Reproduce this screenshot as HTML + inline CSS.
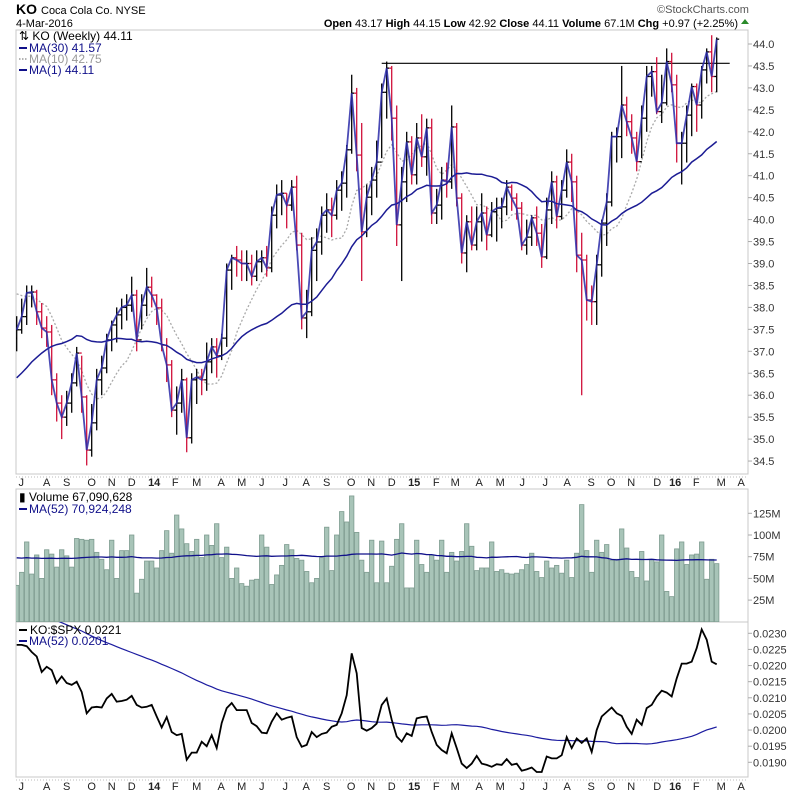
<!DOCTYPE html>
<html><head><meta charset="utf-8"><style>
body{margin:0;background:#fff;width:800px;height:795px;overflow:hidden}
svg{display:block;font-family:"Liberation Sans",sans-serif}
</style></head><body>
<svg id="chart" width="800" height="795" viewBox="0 0 800 795">
<defs>
<clipPath id="cm"><rect x="16" y="30" width="732" height="444"/></clipPath>
<clipPath id="cv"><rect x="16" y="489" width="732" height="133"/></clipPath>
<clipPath id="cr"><rect x="16" y="622" width="732" height="155"/></clipPath>
</defs>
<g>
<text x="16" y="14" font-size="14" font-weight="bold">KO</text>
<text x="41" y="14" font-size="11">Coca Cola Co. NYSE</text>
<text x="16" y="27" font-size="11">4-Mar-2016</text>
<text x="657" y="13" font-size="11" fill="#555">©StockCharts.com</text>
<text x="738" y="27" font-size="11" text-anchor="end"><tspan font-weight="bold">Open</tspan> 43.17 <tspan font-weight="bold">High</tspan> 44.15 <tspan font-weight="bold">Low</tspan> 42.92 <tspan font-weight="bold">Close</tspan> 44.11 <tspan font-weight="bold">Volume</tspan> 67.1M <tspan font-weight="bold">Chg</tspan> +0.97 (+2.25%)</text>
<path d="M741 24 L745 19 L749 24 Z" fill="#2a8a2a"/>
</g>
<g id="panels"></g>
<g id="main" clip-path="url(#cm)"></g>
<g id="vol" clip-path="url(#cv)"></g>
<g id="rat" clip-path="url(#cr)"></g>
<g id="axes"></g>
<g font-size="12">
<text x="19" y="40">⇅ KO (Weekly) 44.11</text>
<line x1="19" y1="48" x2="27" y2="48" stroke="#10108a" stroke-width="2"/>
<text x="29" y="52" fill="#10108a">MA(30) 41.57</text>
<line x1="19" y1="59" x2="27" y2="59" stroke="#999" stroke-width="1.5" stroke-dasharray="1.5,1.5"/>
<text x="29" y="63" fill="#999">MA(10) 42.75</text>
<line x1="19" y1="70" x2="27" y2="70" stroke="#10108a" stroke-width="2"/>
<text x="29" y="74" fill="#10108a">MA(1) 44.11</text>
</g>
<g font-size="12">
<text x="19" y="501">▮ Volume 67,090,628</text>
<line x1="19" y1="509" x2="27" y2="509" stroke="#10108a" stroke-width="2"/>
<text x="29" y="513" fill="#10108a">MA(52) 70,924,248</text>
</g>
<g font-size="12">
<line x1="19" y1="630" x2="27" y2="630" stroke="#000" stroke-width="2"/>
<text x="30" y="634">KO:$SPX 0.0221</text>
<line x1="19" y1="641" x2="27" y2="641" stroke="#10108a" stroke-width="2"/>
<text x="29" y="645" fill="#10108a">MA(52) 0.0201</text>
</g>
</svg>
<script>
const closes=[37.49,37.79,38.33,38.35,37.90,37.53,37.44,36.35,35.82,35.50,35.82,36.28,36.96,35.96,34.75,35.37,36.35,36.62,37.26,37.60,37.83,38.00,38.05,38.28,37.26,38.05,38.46,38.28,37.99,37.14,36.69,35.66,35.82,36.35,35.03,36.35,36.41,36.35,36.76,37.10,36.90,37.30,38.85,39.13,39.08,39.00,39.00,38.71,39.04,39.13,38.90,40.10,40.56,40.60,40.33,40.74,39.42,37.76,37.90,39.30,39.49,40.10,40.22,40.10,40.67,40.83,41.59,42.88,41.47,39.72,40.51,40.90,41.31,42.90,43.45,42.31,39.88,40.86,41.77,41.02,41.86,41.43,42.09,40.15,40.33,40.90,40.86,42.11,40.49,39.24,39.95,39.42,39.95,40.15,39.65,40.18,40.26,40.29,40.74,40.49,40.26,39.42,39.60,40.04,39.69,39.15,40.22,40.86,40.07,40.67,41.31,40.86,39.19,39.08,38.17,38.13,38.97,39.92,40.40,41.89,41.89,42.61,42.23,41.86,41.32,42.31,43.26,43.37,42.46,42.66,43.60,43.07,41.74,41.74,42.38,43.03,42.61,43.41,43.82,43.26,44.11];
const highs=[37.8,38.2,38.5,38.5,38.4,38.1,37.8,37.6,36.5,36.0,36.1,36.5,37.1,36.9,36.0,35.8,36.6,36.9,37.4,37.7,38.0,38.2,38.3,38.7,38.4,38.3,38.9,38.7,38.3,38.2,37.3,36.8,36.2,36.6,36.4,36.5,36.6,36.6,37.2,37.3,37.3,37.4,39.0,39.2,39.4,39.3,39.3,39.2,39.3,39.3,39.4,40.3,40.8,40.9,40.6,40.9,41.0,39.7,38.4,39.6,39.8,40.3,40.6,40.5,40.9,41.1,41.7,43.3,43.0,42.2,40.8,41.2,41.8,43.1,43.6,43.5,42.6,41.2,42.0,41.9,42.2,42.4,42.3,42.3,40.7,41.2,41.3,42.6,42.2,40.6,40.1,40.3,40.3,40.6,40.3,40.4,40.5,40.5,40.9,40.8,40.6,40.4,40.0,40.1,40.3,39.9,40.5,41.1,41.0,40.9,41.6,41.5,41.0,39.7,39.2,38.5,39.2,40.0,40.6,42.0,42.1,43.5,42.8,42.4,42.0,42.6,43.5,43.5,43.7,43.3,43.9,43.8,43.3,42.0,42.6,43.1,43.1,43.5,43.9,44.2,44.15];
const lows=[37.0,37.4,37.6,38.0,37.6,37.3,37.1,36.0,35.4,35.0,35.3,35.6,36.2,35.6,34.4,34.6,35.2,36.0,36.5,37.0,37.2,37.5,37.7,37.9,37.0,37.5,37.8,38.0,37.6,37.0,36.3,35.5,35.1,35.6,34.7,34.9,35.8,36.0,36.1,36.5,36.4,36.8,37.1,38.4,38.7,38.6,38.6,38.5,38.6,38.8,38.7,38.8,39.8,40.1,39.8,40.2,39.3,37.5,37.3,37.8,38.6,39.2,39.7,39.6,40.0,40.2,40.5,41.5,41.1,38.6,39.6,40.1,40.5,41.4,42.3,41.8,39.4,38.6,40.4,40.8,40.8,41.2,41.0,39.9,39.9,40.0,40.5,40.7,40.3,39.0,38.8,39.3,39.3,39.5,39.3,39.6,39.5,39.8,40.1,40.2,40.0,39.3,39.2,39.4,39.4,38.9,39.1,39.9,39.8,40.0,40.5,40.4,38.8,36.0,37.7,37.6,37.6,38.7,39.4,40.3,41.3,41.4,41.9,41.5,41.1,41.4,42.0,42.8,42.4,42.2,42.6,42.9,41.3,40.8,41.3,41.9,42.0,42.3,43.1,42.9,42.9];
const priorCloses=[34.5,34.8,34.4,34.7,34.6,34.9,34.3,34.6,34.8,34.5,34.7,34.4,36.5,36.9,36.6,36.8,36.7,36.5,36.9,36.7,38.2,38.5,38.3,38.6,38.4,38.2,38.6,38.5,38.3];
const volumes=[42,57,92,55,77,50,83,78,63,83,76,63,96,95,94,95,80,72,60,94,50,82,82,100,33,49,70,70,62,82,105,79,123,107,90,81,95,74,100,88,113,74,86,50,62,44,41,48,49,100,86,43,54,65,89,83,73,71,58,45,50,74,109,59,100,127,115,145,103,71,57,94,45,93,45,64,95,113,39,39,94,66,57,77,71,94,57,80,70,81,113,87,59,62,62,92,58,60,56,55,56,60,66,79,58,51,70,62,65,56,71,51,79,135,82,57,94,80,89,71,72,107,85,58,51,81,47,72,69,100,35,29,84,92,66,77,78,92,49,72,67];
const priorVolumes=[74,70,80,68,77,72,75,79,71,76,73,78,70,75,74,77,72,76,73,75,78,71,74,76,73,77,72,75,74,76,73,75,77,72,74,76,75,73,74,76,72,75,77,73,74,75,76,72,74,75,73];
const ratio=[0.02264,0.02264,0.02260,0.02242,0.02228,0.02180,0.02196,0.02186,0.02146,0.02166,0.02146,0.02140,0.02150,0.02118,0.02052,0.02070,0.02072,0.02070,0.02098,0.02112,0.02088,0.02090,0.02094,0.02106,0.02078,0.02070,0.02072,0.02078,0.02042,0.02008,0.02040,0.01994,0.01984,0.01988,0.01908,0.01930,0.01930,0.01964,0.01950,0.01984,0.01944,0.02022,0.02068,0.02084,0.02062,0.02062,0.02062,0.02022,0.02012,0.01992,0.01990,0.02026,0.02052,0.02032,0.02038,0.02042,0.01978,0.01948,0.01954,0.01994,0.01978,0.01988,0.01992,0.02010,0.02016,0.02052,0.02108,0.02238,0.02176,0.02006,0.01998,0.02006,0.02020,0.02078,0.02098,0.02032,0.01980,0.01964,0.01990,0.01982,0.02036,0.02040,0.02042,0.01994,0.01954,0.01938,0.01928,0.01990,0.01944,0.01896,0.01882,0.01896,0.01920,0.01896,0.01892,0.01886,0.01894,0.01892,0.01910,0.01892,0.01896,0.01874,0.01878,0.01884,0.01870,0.01870,0.01918,0.01912,0.01912,0.01922,0.01978,0.01944,0.01974,0.01960,0.01974,0.01932,0.02000,0.02042,0.02056,0.02070,0.02052,0.02044,0.02010,0.01988,0.02032,0.02016,0.02068,0.02078,0.02104,0.02122,0.02116,0.02104,0.02160,0.02206,0.02206,0.02212,0.02254,0.02312,0.02280,0.02212,0.02204];
const priorRatio=[0.0254,0.0255,0.0253,0.0252,0.0253,0.0251,0.0250,0.0251,0.0249,0.0248,0.0249,0.0247,0.0246,0.0247,0.0245,0.0244,0.0245,0.0243,0.0242,0.0243,0.0241,0.0240,0.0241,0.0239,0.0238,0.0239,0.0237,0.0236,0.0237,0.0235,0.0236,0.0234,0.0233,0.0234,0.0232,0.0233,0.0231,0.0232,0.0230,0.0231,0.0229,0.0230,0.0229,0.0228,0.0229,0.0228,0.0227,0.0228,0.0227,0.0228,0.0227];
const priceTicks=[34.5,35.0,35.5,36.0,36.5,37.0,37.5,38.0,38.5,39.0,39.5,40.0,40.5,41.0,41.5,42.0,42.5,43.0,43.5,44.0];
const volTicks=[25,50,75,100,125];
const ratioTicks=[0.0190,0.0195,0.0200,0.0205,0.0210,0.0215,0.0220,0.0225,0.0230];
const monthLabels=["J","A","S","O","N","D","14","F","M","A","M","J","J","A","S","O","N","D","15","F","M","A","M","J","J","A","S","O","N","D","16","F","M","A"];
const monthIdx=[0.9,6,10,15,19,23,27.5,31.7,36,40.9,45,49,53.7,57.9,62,66.9,70.9,75,79.5,83.9,87.7,92.5,96.7,101.1,105.7,110.1,114.9,118.9,122.9,128.1,131.7,135.9,140.9,144.9];
const resistanceLevel=43.56, resistanceFrom=73, resistanceTo=142.6;

const NS="http://www.w3.org/2000/svg";
const xB=i=>16.7+5.0*i;
const yP=p=>44+(44-p)*43.9;
const yV=v=>621.8-v*0.868;
const yR=r=>633.3+(0.0230-r)/0.0005*16.125;
function mk(tag,attrs,parent){const e=document.createElementNS(NS,tag);for(const k in attrs)e.setAttribute(k,attrs[k]);parent.appendChild(e);return e;}
const G=id=>document.getElementById(id);

const pn=G('panels');
[[30,474],[489,622],[622,777]].forEach((r,k)=>{
 const e=mk('rect',{x:16,y:r[0],width:732,height:r[1]-r[0],fill:'#fff',stroke:'#c8c8c8','stroke-width':1},pn);
 
 
});

function sma(prior,data,n){const all=prior.concat(data),out=[];for(let i=0;i<data.length;i++){const end=prior.length+i;let s=0,c=0;for(let j=Math.max(0,end-n+1);j<=end;j++){s+=all[j];c++;}out.push(s/c);}return out;}
const ma30=sma(priorCloses,closes,30), ma10=sma(priorCloses.slice(-9),closes,10);
const vma=sma(priorVolumes,volumes,52), rma=sma(priorRatio,ratio,52);
const path=(arr,fy)=>arr.map((v,i)=>(i?'L':'M')+xB(i).toFixed(1)+' '+fy(v).toFixed(1)).join(' ');

const m=G('main');
const res=mk('line',{x1:xB(resistanceFrom),x2:xB(resistanceTo),y1:yP(resistanceLevel),y2:yP(resistanceLevel),stroke:'#000','stroke-width':1.2},m);


const m10=mk('path',{d:path(ma10,yP),fill:'none',stroke:'#aaa','stroke-width':1.3,'stroke-dasharray':'2,2'},m);


closes.forEach((c,i)=>{
 const prev=i?closes[i-1]:37.3;
 const col=c<prev?'#d0103a':'#000';
 const g=mk('g',{stroke:col,'stroke-width':1.3},m);
 
 
 const x=xB(i);
 mk('line',{x1:x,x2:x,y1:yP(highs[i]),y2:yP(lows[i])},g);
 mk('line',{x1:x-2.5,x2:x,y1:yP(prev),y2:yP(prev)},g);
 mk('line',{x1:x,x2:x+2.5,y1:yP(c),y2:yP(c)},g);
});
const m30=mk('path',{d:path(ma30,yP),fill:'none',stroke:'#1c1c94','stroke-width':1.5},m);


const m1=mk('path',{d:path(closes,yP),fill:'none',stroke:'#2a2aa8','stroke-width':1.8,'stroke-opacity':0.85},m);



const v=G('vol');
volumes.forEach((val,i)=>{
 const r=mk('rect',{x:xB(i)-2.2,y:yV(val),width:4.4,height:621.8-yV(val),fill:'#a8c4b8',stroke:'#7e9c90','stroke-width':0.8},v);
 
 
});
const vl=mk('path',{d:path(vma,yV),fill:'none',stroke:'#10108a','stroke-width':1.3},v);



const rt=G('rat');
const rl2=mk('path',{d:path(rma,yR),fill:'none',stroke:'#1c1ca0','stroke-width':1.2},rt);


const rl=mk('path',{d:path(ratio,yR),fill:'none',stroke:'#000','stroke-width':1.8},rt);



const ax=G('axes');
priceTicks.forEach(t=>{
 const y=yP(t);
 mk('line',{x1:748,x2:752,y1:y,y2:y,stroke:'#aaa'},ax);
 const e=mk('text',{x:753,y:y+4,'font-size':11,fill:'#333'},ax);e.textContent=t.toFixed(1);
 
 
});
volTicks.forEach(t=>{
 const y=yV(t);
 mk('line',{x1:748,x2:752,y1:y,y2:y,stroke:'#aaa'},ax);
 const e=mk('text',{x:753,y:y+4,'font-size':11,fill:'#333'},ax);e.textContent=t+'M';
 
 
});
ratioTicks.forEach(t=>{
 const y=yR(t);
 mk('line',{x1:748,x2:752,y1:y,y2:y,stroke:'#aaa'},ax);
 const e=mk('text',{x:753,y:y+4,'font-size':11,fill:'#333'},ax);e.textContent=t.toFixed(4);
 
 
});
mk('line',{x1:16,x2:748,y1:477,y2:477,stroke:'#bbb','stroke-dasharray':'1,2'},ax);
mk('line',{x1:16,x2:748,y1:780,y2:780,stroke:'#bbb','stroke-dasharray':'1,2'},ax);
[486,790].forEach((yy,row)=>{
 monthLabels.forEach((lab,k)=>{
  const x=xB(monthIdx[k]);
  if(x>750)return;
  const e=mk('text',{x:x,y:yy,'font-size':11,'text-anchor':'middle',fill:'#222','font-weight':(lab.length>1?'bold':'normal')},ax);
  e.textContent=lab;
  
  
 });
});
</script>
</body></html>
